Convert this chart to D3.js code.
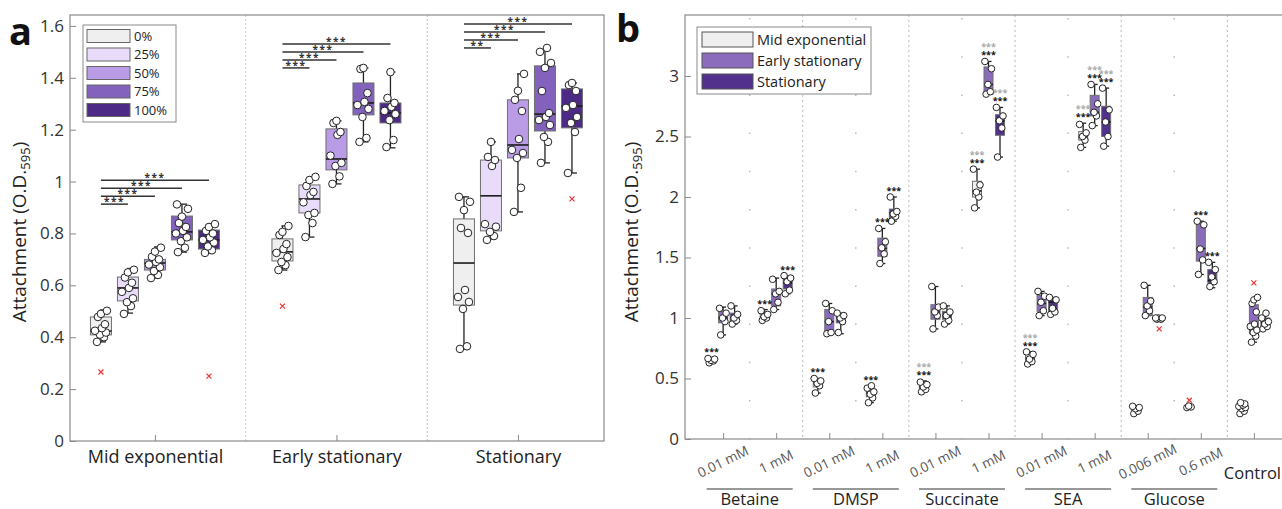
<!DOCTYPE html>
<html lang="en">
<head>
<meta charset="utf-8">
<title>Attachment boxplots</title>
<script src="https://d3js.org/d3.v7.min.js"></script>
<style>
  body { margin: 0; background: #fff; }
  svg { display: block; font-family: "Open Sans", "Noto Sans", sans-serif; }
</style>
</head>
<body>
<script>

// ---------- panel a data ----------
var phasesA = ["Mid exponential", "Early stationary", "Stationary"];
var percents = ["0%", "25%", "50%", "75%", "100%"];
var colorsA = ["#efefef", "#e9dcfa", "#ba9be6", "#8262bc", "#4c2a86"];

// [lower whisker, q1, median, q3, upper whisker] for 0..100%
var midExpStats = [
  [0.382, 0.409, 0.424, 0.478, 0.505],
  [0.493, 0.540, 0.590, 0.632, 0.665],
  [0.628, 0.659, 0.686, 0.700, 0.748],
  [0.728, 0.775, 0.806, 0.867, 0.913],
  [0.725, 0.740, 0.775, 0.813, 0.836]
];
var earlyStatStats = [
  [0.659, 0.694, 0.729, 0.779, 0.829],
  [0.786, 0.879, 0.933, 0.987, 1.018],
  [0.991, 1.045, 1.087, 1.203, 1.234],
  [1.153, 1.257, 1.303, 1.380, 1.438],
  [1.130, 1.226, 1.264, 1.303, 1.422]
];
var statStats = [
  [0.355, 0.524, 0.686, 0.856, 0.941],
  [0.779, 0.810, 0.945, 1.083, 1.153],
  [0.883, 1.091, 1.141, 1.315, 1.415],
  [1.072, 1.195, 1.260, 1.446, 1.515],
  [1.033, 1.207, 1.291, 1.357, 1.380]
];

var midExpPoints = [
  [0.382, 0.400, 0.410, 0.418, 0.425, 0.435, 0.450, 0.478, 0.490, 0.502],
  [0.490, 0.520, 0.535, 0.550, 0.575, 0.590, 0.610, 0.630, 0.650, 0.660],
  [0.628, 0.640, 0.655, 0.670, 0.680, 0.690, 0.700, 0.710, 0.730, 0.745],
  [0.728, 0.745, 0.770, 0.785, 0.800, 0.810, 0.825, 0.840, 0.865, 0.895, 0.912],
  [0.725, 0.735, 0.750, 0.765, 0.775, 0.785, 0.800, 0.810, 0.825, 0.836]
];
var earlyStatPoints = [
  [0.659, 0.678, 0.690, 0.709, 0.725, 0.740, 0.759, 0.794, 0.806, 0.829],
  [0.786, 0.840, 0.871, 0.879, 0.920, 0.948, 0.960, 0.983, 1.006, 1.018],
  [0.991, 1.020, 1.060, 1.072, 1.100, 1.180, 1.191, 1.226, 1.234],
  [1.153, 1.168, 1.249, 1.280, 1.295, 1.307, 1.341, 1.434, 1.438],
  [1.133, 1.160, 1.237, 1.260, 1.272, 1.288, 1.303, 1.322, 1.422]
];
var statPoints = [
  [0.355, 0.365, 0.509, 0.536, 0.555, 0.582, 0.802, 0.821, 0.890, 0.922, 0.941],
  [0.775, 0.790, 0.806, 0.826, 0.836, 1.060, 1.083, 1.095, 1.153],
  [0.883, 0.976, 1.091, 1.110, 1.122, 1.164, 1.272, 1.315, 1.350, 1.415],
  [1.072, 1.153, 1.172, 1.218, 1.237, 1.249, 1.264, 1.349, 1.438, 1.457, 1.500, 1.515],
  [1.033, 1.191, 1.226, 1.249, 1.284, 1.295, 1.349, 1.372, 1.380]
];

// outliers: [phase index, percent index, value]
var outliersA = [[0, 0, 0.266], [0, 4, 0.250], [1, 0, 0.520], [2, 4, 0.933]];

// significance vs 0% for 25, 50, 75, 100%
var sigA = [
  ["***", "***", "***", "***"],
  ["***", "***", "***", "***"],
  ["**", "***", "***", "***"]
];

// ---------- panel b data ----------
var compounds = ["Betaine", "DMSP", "Succinate", "SEA", "Glucose"];
var concLabels = ["0.01 mM", "1 mM", "0.01 mM", "1 mM", "0.01 mM", "1 mM",
                  "0.01 mM", "1 mM", "0.006 mM", "0.6 mM", "Control"];
var phasesB = ["Mid exponential", "Early stationary", "Stationary"];
var colorsB = ["#efefef", "#8b6cbc", "#51318b"];

var midStatsB = [
  [0.63, 0.64, 0.65, 0.66, 0.67],
  [0.98, 0.99, 1.01, 1.04, 1.07],
  [0.38, 0.43, 0.46, 0.48, 0.50],
  [0.30, 0.35, 0.38, 0.41, 0.44],
  [0.39, 0.41, 0.43, 0.45, 0.48],
  [1.91, 2.00, 2.05, 2.13, 2.23],
  [0.62, 0.64, 0.67, 0.70, 0.72],
  [2.41, 2.47, 2.50, 2.54, 2.61],
  [0.21, 0.23, 0.245, 0.26, 0.27],
  [0.26, 0.262, 0.265, 0.27, 0.275],
  [0.21, 0.24, 0.265, 0.29, 0.30]
];
var earlyStatsB = [
  [0.86, 0.96, 1.00, 1.055, 1.09],
  [1.07, 1.10, 1.20, 1.24, 1.33],
  [0.87, 0.87, 0.97, 1.07, 1.12],
  [1.45, 1.51, 1.575, 1.66, 1.74],
  [0.91, 0.99, 1.05, 1.11, 1.26],
  [2.85, 2.85, 2.93, 3.075, 3.12],
  [1.02, 1.055, 1.12, 1.19, 1.22],
  [2.59, 2.67, 2.70, 2.84, 2.93],
  [1.02, 1.02, 1.09, 1.17, 1.27],
  [1.36, 1.47, 1.575, 1.78, 1.80],
  [0.80, 0.87, 0.905, 1.11, 1.17]
];
var statStatsB = [
  [0.95, 0.965, 1.00, 1.04, 1.10],
  [1.20, 1.24, 1.29, 1.34, 1.35],
  [0.87, 0.96, 1.00, 1.01, 1.04],
  [1.80, 1.83, 1.87, 1.90, 2.00],
  [0.95, 0.99, 1.02, 1.055, 1.10],
  [2.33, 2.51, 2.63, 2.68, 2.74],
  [1.03, 1.04, 1.13, 1.16, 1.17],
  [2.42, 2.50, 2.62, 2.75, 2.90],
  [0.99, 0.99, 0.995, 1.00, 1.00],
  [1.25, 1.29, 1.31, 1.40, 1.46],
  [0.91, 0.925, 0.965, 1.00, 1.04]
];

var midPtsB = [
  [0.63, 0.645, 0.65, 0.66, 0.665],
  [0.98, 1.00, 1.01, 1.03, 1.06],
  [0.38, 0.44, 0.46, 0.48, 0.50],
  [0.30, 0.34, 0.37, 0.39, 0.42, 0.44],
  [0.39, 0.41, 0.43, 0.45, 0.47],
  [1.91, 2.00, 2.04, 2.10, 2.23],
  [0.62, 0.64, 0.66, 0.70, 0.72],
  [2.41, 2.47, 2.50, 2.53, 2.60],
  [0.21, 0.23, 0.25, 0.26, 0.27],
  [0.26, 0.265, 0.272],
  [0.21, 0.23, 0.25, 0.26, 0.27, 0.28, 0.29, 0.30]
];
var earlyPtsB = [
  [0.86, 0.97, 1.00, 1.04, 1.08],
  [1.07, 1.13, 1.20, 1.22, 1.32],
  [0.87, 0.88, 0.97, 1.06, 1.12],
  [1.45, 1.53, 1.58, 1.63, 1.74],
  [0.91, 1.02, 1.05, 1.09, 1.26],
  [2.85, 2.87, 2.93, 3.06, 3.12],
  [1.02, 1.06, 1.13, 1.18, 1.22],
  [2.59, 2.67, 2.70, 2.77, 2.93],
  [1.02, 1.06, 1.10, 1.14, 1.27],
  [1.36, 1.48, 1.57, 1.77, 1.80],
  [0.80, 0.85, 0.88, 0.90, 0.93, 0.95, 1.05, 1.12, 1.15, 1.17]
];
var statPtsB = [
  [0.95, 0.98, 1.00, 1.03, 1.10],
  [1.20, 1.23, 1.30, 1.33, 1.35],
  [0.88, 0.97, 1.00, 1.02, 1.04],
  [1.80, 1.84, 1.86, 1.88, 2.00],
  [0.95, 0.98, 1.02, 1.05, 1.10],
  [2.33, 2.57, 2.63, 2.67, 2.74],
  [1.03, 1.05, 1.08, 1.15, 1.17],
  [2.42, 2.50, 2.62, 2.72, 2.90],
  [0.99, 0.99, 1.00, 1.00, 1.00],
  [1.26, 1.30, 1.34, 1.40, 1.46],
  [0.91, 0.93, 0.95, 0.97, 1.00, 1.04]
];

// outliers: [condition, phase, value]
var outliersB = [[9, 0, 0.32], [8, 2, 0.91], [10, 1, 1.29]];

// stars: [condition, phase, vs-control (black), vs-other (grey)]
var starsB = [
  [0, 0, 1, 0], [1, 0, 1, 0], [1, 2, 1, 0],
  [2, 0, 1, 0], [3, 0, 1, 0], [3, 1, 1, 0], [3, 2, 1, 0],
  [4, 0, 1, 1], [5, 0, 1, 1], [5, 1, 1, 1], [5, 2, 1, 1],
  [6, 0, 1, 1], [7, 0, 1, 1], [7, 1, 1, 1], [7, 2, 1, 1],
  [9, 1, 1, 0], [9, 2, 1, 0]
];

// ---------- drawing ----------
var W = 1282, H = 509;
var svg = d3.select("body").append("svg")
    .attr("width", W)
    .attr("height", H);

var jit = [-4, 3, -1, 5, -6, 1, 4, -3, 0, 6, -5, 2];

function boxplot(g, y, cx, w, s, fill, cap) {
  g.append("line")
      .attr("x1", cx).attr("x2", cx)
      .attr("y1", y(s[4])).attr("y2", y(s[0]))
      .attr("stroke", "#222").attr("stroke-width", 1.3);
  g.append("line").attr("x1", cx - 1).attr("x2", cx + cap)
      .attr("y1", y(s[4])).attr("y2", y(s[4]))
      .attr("stroke", "#222").attr("stroke-width", 1.3);
  g.append("line").attr("x1", cx - 1).attr("x2", cx + cap)
      .attr("y1", y(s[0])).attr("y2", y(s[0]))
      .attr("stroke", "#222").attr("stroke-width", 1.3);
  g.append("rect")
      .attr("x", cx - w / 2).attr("width", w)
      .attr("y", y(s[3])).attr("height", Math.max(1, y(s[1]) - y(s[3])))
      .attr("fill", fill).attr("stroke", "#6f6f6f").attr("stroke-width", 1);
  g.append("line")
      .attr("x1", cx - w / 2).attr("x2", cx + w / 2)
      .attr("y1", y(s[2])).attr("y2", y(s[2]))
      .attr("stroke", "#1a1a1a").attr("stroke-width", 1.6);
}

function points(g, y, cx, pts, r, spread) {
  g.selectAll(null)
      .data(pts)
      .enter()
      .append("circle")
      .attr("cx", function(d, i) { return cx + jit[i % jit.length] * spread; })
      .attr("cy", function(d) { return y(d); })
      .attr("r", r)
      .attr("fill", "#fff")
      .attr("stroke", "#222")
      .attr("stroke-width", 1);
}

function cross(g, x, yy) {
  g.append("path")
      .attr("d", "M" + (x - 2.5) + "," + (yy - 2.5) + "L" + (x + 2.5) + "," + (yy + 2.5) +
                 "M" + (x - 2.5) + "," + (yy + 2.5) + "L" + (x + 2.5) + "," + (yy - 2.5))
      .attr("stroke", "#ee3333").attr("stroke-width", 1.2);
}

function yTitle(x, yc) {
  var t = svg.append("text")
      .attr("transform", "translate(" + x + "," + yc + ") rotate(-90)")
      .attr("text-anchor", "middle")
      .attr("font-size", 19)
      .attr("fill", "#222");
  t.append("tspan").text("Attachment (O.D.");
  t.append("tspan").attr("font-size", 13).attr("dy", 4).text("595");
  t.append("tspan").attr("dy", -4).text(")");
}

// ===== panel a =====
var aLeft = 70, aRight = 604, aTop = 15, aBottom = 441;
var xa = d3.scaleLinear().domain([0.532, 3.474]).range([aLeft, aRight]);
var ya = d3.scaleLinear().domain([0, 1.642]).range([aBottom, aTop]);
var ga = svg.append("g");

// separators
[1.5, 2.5].forEach(function(v) {
  ga.append("line")
      .attr("x1", xa(v)).attr("x2", xa(v))
      .attr("y1", aTop).attr("y2", aBottom)
      .attr("stroke", "#c4c4c4").attr("stroke-dasharray", "2,2");
});

ga.append("rect")
    .attr("x", aLeft).attr("y", aTop)
    .attr("width", aRight - aLeft).attr("height", aBottom - aTop)
    .attr("fill", "none").attr("stroke", "#8a8a8a").attr("stroke-width", 1.2);

// y axis
var yTicksA = [0, 0.2, 0.4, 0.6, 0.8, 1, 1.2, 1.4, 1.6];
var yAxisA = d3.axisLeft(ya).tickValues(yTicksA).tickSizeInner(-6).tickSizeOuter(0)
    .tickPadding(6).tickFormat(d3.format("~g"));
ga.append("g").attr("transform", "translate(" + aLeft + ",0)").call(yAxisA)
    .call(function(s) {
      s.select(".domain").remove();
      s.selectAll("line").attr("stroke", "#8a8a8a");
      s.selectAll("text").attr("font-size", 17).attr("fill", "#333").attr("font-family", "Open Sans");
    });

// x axis
var xAxisA = d3.axisBottom(xa).tickValues([1, 2, 3]).tickSizeInner(-6).tickSizeOuter(0)
    .tickPadding(9).tickFormat(function(d) { return phasesA[d - 1]; });
ga.append("g").attr("transform", "translate(0," + aBottom + ")").call(xAxisA)
    .call(function(s) {
      s.select(".domain").remove();
      s.selectAll("line").attr("stroke", "#8a8a8a");
      s.selectAll("text").attr("font-size", 18).attr("fill", "#222").attr("font-family", "Open Sans");
    });

var statsA = [midExpStats, earlyStatStats, statStats];
var ptsA = [midExpPoints, earlyStatPoints, statPoints];
var boxStep = 27;

statsA.forEach(function(phaseStats, p) {
  phaseStats.forEach(function(s, j) {
    var cx = xa(p + 1) + (j - 2) * boxStep;
    boxplot(ga, ya, cx, 21, s, colorsA[j], 5);
  });
  ptsA[p].forEach(function(pts, j) {
    var cx = xa(p + 1) + (j - 2) * boxStep;
    points(ga, ya, cx, pts, 3.8, 1);
  });
  // significance bars
  var top = d3.max(phaseStats, function(s) { return s[4]; });
  var x0 = xa(p + 1) - 2 * boxStep;
  sigA[p].forEach(function(lbl, k) {
    var yy = ya(top) - k * 8;
    var x1 = xa(p + 1) + (k - 1) * boxStep;
    ga.append("line")
        .attr("x1", x0).attr("x2", x1)
        .attr("y1", yy).attr("y2", yy)
        .attr("stroke", "#333").attr("stroke-width", 1.5);
    ga.append("text")
        .attr("x", (x0 + x1) / 2).attr("y", yy + 1)
        .attr("text-anchor", "middle")
        .attr("font-size", 10).attr("font-weight", "bold")
        .attr("letter-spacing", 1.5)
        .attr("fill", "#333")
        .text(lbl);
  });
});

outliersA.forEach(function(o) {
  cross(ga, xa(o[0] + 1) + (o[1] - 2) * boxStep, ya(o[2]));
});

// legend a
var lga = ga.append("g");
lga.append("rect").attr("x", 83).attr("y", 25).attr("width", 93).attr("height", 97)
    .attr("fill", "#fff").attr("stroke", "#8a8a8a");
percents.forEach(function(lbl, i) {
  var cy = 36 + i * 18.5;
  lga.append("rect").attr("x", 87).attr("y", cy - 6.5).attr("width", 43).attr("height", 13)
      .attr("fill", colorsA[i]).attr("stroke", "#666");
  lga.append("text").attr("x", 134).attr("y", cy + 4.5)
      .attr("font-size", 13).attr("fill", "#222").text(lbl);
});

yTitle(26, 232);
svg.append("text").attr("x", 9).attr("y", 45)
    .attr("font-size", 38).attr("font-weight", "bold").attr("fill", "#111").text("a");

// ===== panel b =====
var bLeft = 685, bRight = 1292, bTop = 15, bBottom = 439;
var xb = d3.scaleLinear().domain([-0.718, 10.718]).range([bLeft, bRight]);
var yb = d3.scaleLinear().domain([0, 3.504]).range([bBottom, bTop]);
var gb = svg.append("g");

// sparse grid inside groups and dotted separators between groups
[0.5, 2.5, 4.5, 6.5, 8.5].forEach(function(v) {
  gb.append("line")
      .attr("x1", xb(v)).attr("x2", xb(v))
      .attr("y1", 18).attr("y2", bBottom)
      .attr("stroke", "#b5b5b5").attr("stroke-width", 1.4)
      .attr("stroke-dasharray", "1.5,36.7");
});
[1.5, 3.5, 5.5, 7.5, 9.5].forEach(function(v) {
  gb.append("line")
      .attr("x1", xb(v)).attr("x2", xb(v))
      .attr("y1", bTop).attr("y2", bBottom)
      .attr("stroke", "#b8b8b8").attr("stroke-dasharray", "2,3");
});

gb.append("rect")
    .attr("x", bLeft).attr("y", bTop)
    .attr("width", bRight - bLeft).attr("height", bBottom - bTop)
    .attr("fill", "none").attr("stroke", "#8a8a8a").attr("stroke-width", 1.2);

var yAxisB = d3.axisLeft(yb).tickValues([0, 0.5, 1, 1.5, 2, 2.5, 3]).tickSizeInner(-6)
    .tickSizeOuter(0).tickPadding(6).tickFormat(d3.format("~g"));
gb.append("g").attr("transform", "translate(" + bLeft + ",0)").call(yAxisB)
    .call(function(s) {
      s.select(".domain").remove();
      s.selectAll("line").attr("stroke", "#8a8a8a");
      s.selectAll("text").attr("font-size", 17).attr("fill", "#333").attr("font-family", "Open Sans");
    });

var xAxisB = d3.axisBottom(xb).tickValues(d3.range(concLabels.length)).tickSizeInner(-6)
    .tickSizeOuter(0).tickFormat("");
gb.append("g").attr("transform", "translate(0," + bBottom + ")").call(xAxisB)
    .call(function(s) {
      s.select(".domain").remove();
      s.selectAll("line").attr("stroke", "#8a8a8a");
    });

// condition labels
concLabels.forEach(function(lbl, i) {
  if (i === concLabels.length - 1) {
    gb.append("text").attr("x", 1281).attr("y", 479)
        .attr("text-anchor", "end").attr("font-size", 16.5).attr("fill", "#222")
        .text(lbl);
  } else {
    gb.append("text")
        .attr("transform", "translate(" + (xb(i) + 2) + "," + 466 + ") rotate(-26)")
        .attr("text-anchor", "middle").attr("font-size", 13.5).attr("fill", "#555")
        .text(lbl);
  }
});

// compound labels with underline
compounds.forEach(function(c, k) {
  var cx = xb(2 * k + 0.5);
  gb.append("line").attr("x1", cx - 43).attr("x2", cx + 43)
      .attr("y1", 489).attr("y2", 489)
      .attr("stroke", "#333").attr("stroke-width", 1.2);
  gb.append("text").attr("x", cx).attr("y", 505)
      .attr("text-anchor", "middle").attr("font-size", 16.5).attr("fill", "#222")
      .text(c);
});

var statsB = [midStatsB, earlyStatsB, statStatsB];
var ptsB = [midPtsB, earlyPtsB, statPtsB];
var phaseStep = 11.5;

function posB(cond, phase) { return xb(cond) + (phase - 1) * phaseStep; }

statsB.forEach(function(list, p) {
  list.forEach(function(s, i) {
    boxplot(gb, yb, posB(i, p), 9, s, colorsB[p], 3);
  });
});
ptsB.forEach(function(list, p) {
  list.forEach(function(pts, i) {
    points(gb, yb, posB(i, p), pts, 3.3, 0.6);
  });
});

outliersB.forEach(function(o) {
  cross(gb, posB(o[0], o[1]), yb(o[2]));
});

starsB.forEach(function(st) {
  var c = st[0], p = st[1];
  var top = Math.max(statsB[p][c][4], d3.max(ptsB[p][c]));
  var yy = yb(top);
  if (st[2]) {
    gb.append("text").attr("x", posB(c, p)).attr("y", yy - 3)
        .attr("text-anchor", "middle").attr("font-size", 9).attr("font-weight", "bold")
        .attr("fill", "#111").text("***");
  }
  if (st[3]) {
    gb.append("text").attr("x", posB(c, p)).attr("y", yy - 11)
        .attr("text-anchor", "middle").attr("font-size", 9).attr("font-weight", "bold")
        .attr("fill", "#aaa").text("***");
  }
});

// legend b
var lgb = gb.append("g");
lgb.append("rect").attr("x", 697).attr("y", 27).attr("width", 174).attr("height", 67)
    .attr("fill", "#fff").attr("stroke", "#8a8a8a");
phasesB.forEach(function(lbl, i) {
  var cy = 39.5 + i * 21;
  lgb.append("rect").attr("x", 702).attr("y", cy - 7.5).attr("width", 51).attr("height", 15)
      .attr("fill", colorsB[i]).attr("stroke", "#555");
  lgb.append("text").attr("x", 757).attr("y", cy + 5)
      .attr("font-size", 14.5).attr("fill", "#222").text(lbl);
});

yTitle(638, 232);
svg.append("text").attr("x", 616).attr("y", 42)
    .attr("font-size", 38).attr("font-weight", "bold").attr("fill", "#111").text("b");

</script>
</body>
</html>
